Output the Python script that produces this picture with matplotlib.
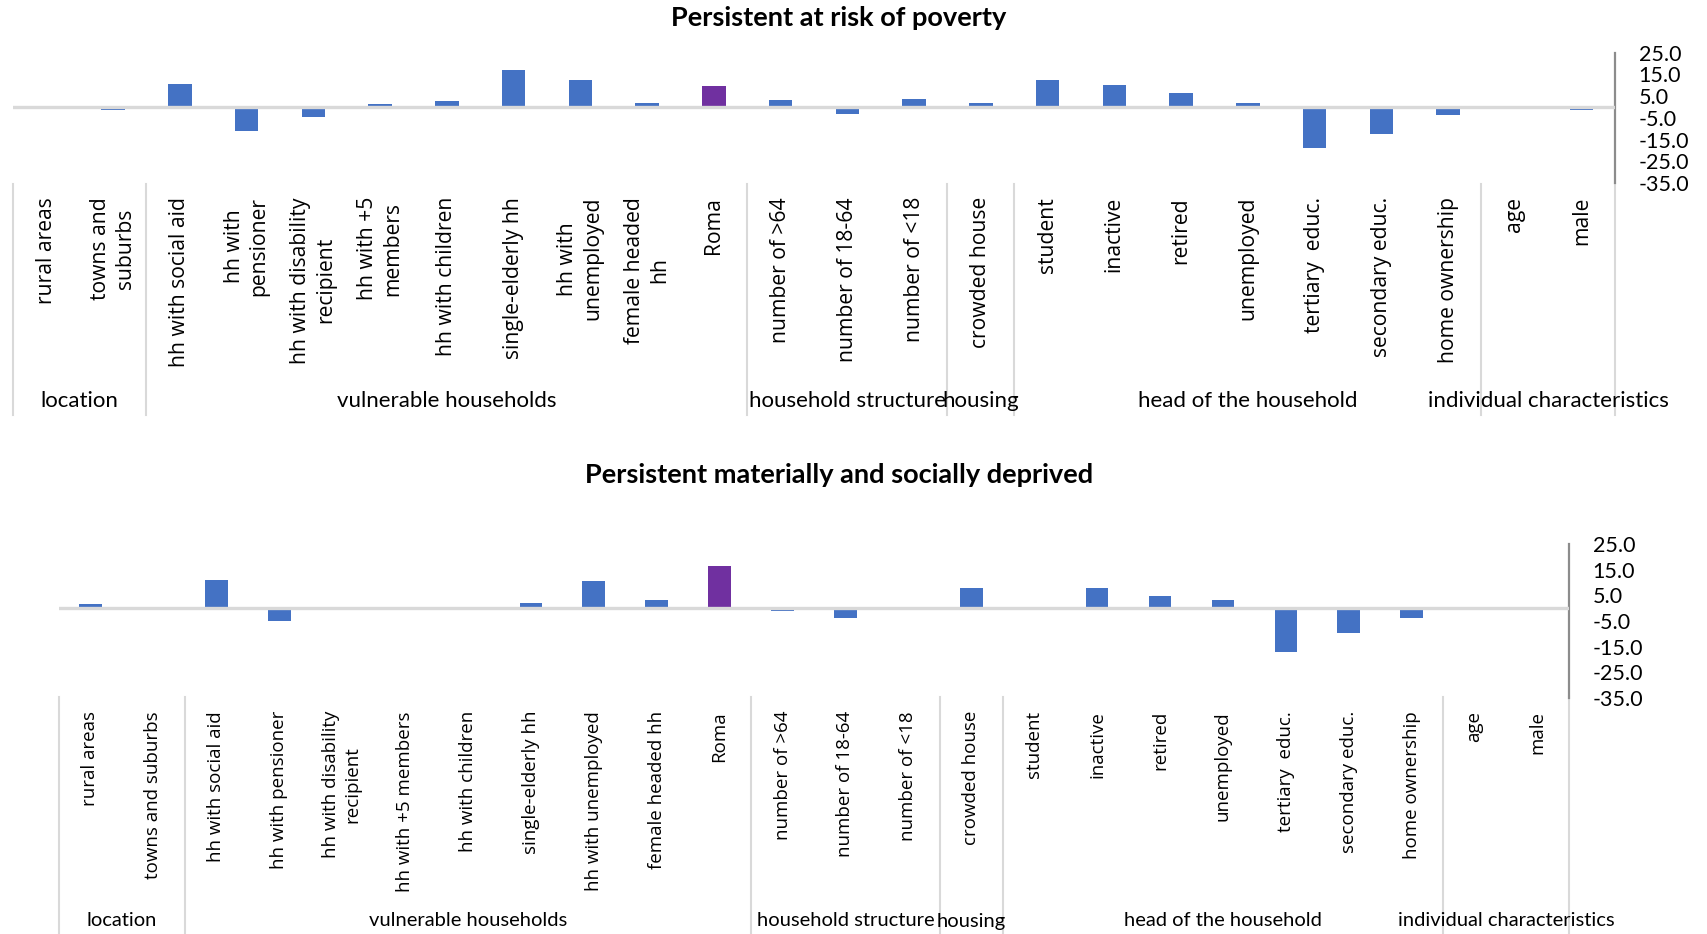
import matplotlib
matplotlib.use("Agg")
import matplotlib.pyplot as plt
import matplotlib.transforms as mtransforms
from matplotlib.lines import Line2D

W, H = 1708, 934

# Category labels (two wrapping styles: upper panel wraps more)
labels_top = [
    "rural areas", "towns and\nsuburbs",
    "hh with social aid", "hh with\npensioner", "hh with disability\nrecipient",
    "hh with +5\nmembers", "hh with children", "single-elderly hh",
    "hh with\nunemployed", "female headed\nhh", "Roma",
    "number of >64", "number of 18-64", "number of <18",
    "crowded house",
    "student", "inactive", "retired", "unemployed", "tertiary  educ.",
    "secondary educ.", "home ownership",
    "age", "male",
]
labels_bottom = [
    "rural areas", "towns and suburbs",
    "hh with social aid", "hh with pensioner", "hh with disability\nrecipient",
    "hh with +5 members", "hh with children", "single-elderly hh",
    "hh with unemployed", "female headed hh", "Roma",
    "number of >64", "number of 18-64", "number of <18",
    "crowded house",
    "student", "inactive", "retired", "unemployed", "tertiary  educ.",
    "secondary educ.", "home ownership",
    "age", "male",
]

groups = ["location", "vulnerable households", "household structure",
          "housing", "head of the household", "individual characteristics"]
group_sizes = [2, 9, 3, 1, 7, 2]

poverty = [0.0, -1.5, 10.5, -11.2, -4.5, 1.2, 2.6, 17.1, 12.4, 1.7, 9.6,
           3.3, -3.3, 3.9, 1.7, 12.4, 10.1, 6.4, 1.7, -19.1, -12.4, -3.6,
           0.0, -1.2]
deprived = [1.5, -0.5, 10.8, -4.9, -0.3, 0.4, 0.4, 2.2, 10.7, 3.1, 16.6,
            -1.2, -3.9, -0.9, 7.7, 0.0, 8.0, 4.9, 3.2, -16.9, -9.8, -3.7,
            0.0, -0.3]

yticks = [25, 15, 5, -5, -15, -25, -35]
highlight = "Roma"

BLUE = "#4472C4"
PURPLE = "#7030A0"
GRID = "#D9D9D9"
AXIS = "#8C8C8C"

fig = plt.figure(figsize=(W / 100, H / 100), dpi=100)


def fy(y):
    return 1 - y / H


def panel(left, right, top, bottom, values, labels, title, title_y,
          cat_top, group_y, div_top, div_bottom, cat_fs, group_fs, bar_w):
    ax = fig.add_axes([left / W, fy(bottom), (right - left) / W, (bottom - top) / H])
    x = list(range(len(values)))
    colors = [PURPLE if lab == highlight else BLUE for lab in labels]
    ax.bar(x, values, width=bar_w, color=colors, zorder=2)
    ax.axhline(0, color=GRID, lw=2.4, zorder=3)
    ax.set_xlim(-0.5, len(values) - 0.5)
    ax.set_ylim(-35, 25)
    ax.set_xticks([])
    ax.yaxis.tick_right()
    ax.set_yticks(yticks)
    ax.set_yticklabels([f"{v:.1f}" for v in yticks], family="Lato", fontsize=15.5)
    ax.tick_params(axis="y", length=0, pad=17)
    for s in ("top", "left", "bottom"):
        ax.spines[s].set_visible(False)
    ax.spines["right"].set_color(AXIS)
    ax.spines["right"].set_linewidth(1.6)
    ax.patch.set_alpha(0)

    tr = mtransforms.blended_transform_factory(ax.transData, fig.transFigure)

    # group separators below the plot
    edges = [-0.5]
    for n in group_sizes:
        edges.append(edges[-1] + n)
    for e in edges:
        ax.add_line(Line2D([e, e], [fy(div_top), fy(div_bottom)], transform=tr,
                           color=GRID, lw=1.5, clip_on=False))

    for i, lab in enumerate(labels):
        ax.text(i, fy(cat_top), lab, transform=tr, rotation=90, ha="center",
                va="top", multialignment="center", family="Open Sans",
                fontsize=cat_fs, linespacing=1.25, color="#000000")

    for g, a, b in zip(groups, edges[:-1], edges[1:]):
        ax.text((a + b) / 2, fy(group_y), g, transform=tr, ha="center",
                va="center", family="Lato", fontsize=group_fs)

    fig.text(839 / W, fy(title_y), title, ha="center", va="center",
             family="Lato", fontweight="bold", fontsize=19.5)
    return ax


panel(13, 1615, 52.7, 183, poverty, labels_top,
      "Persistent at risk of poverty", 18,
      cat_top=197, group_y=401, div_top=184, div_bottom=415,
      cat_fs=15.2, group_fs=16, bar_w=0.35)

panel(59, 1569, 544, 698, deprived, labels_bottom,
      "Persistent materially and socially deprived", 475,
      cat_top=711, group_y=921, div_top=697, div_bottom=934,
      cat_fs=13.5, group_fs=14.5, bar_w=0.36)

fig.savefig("out.png", dpi=100, facecolor="white")
